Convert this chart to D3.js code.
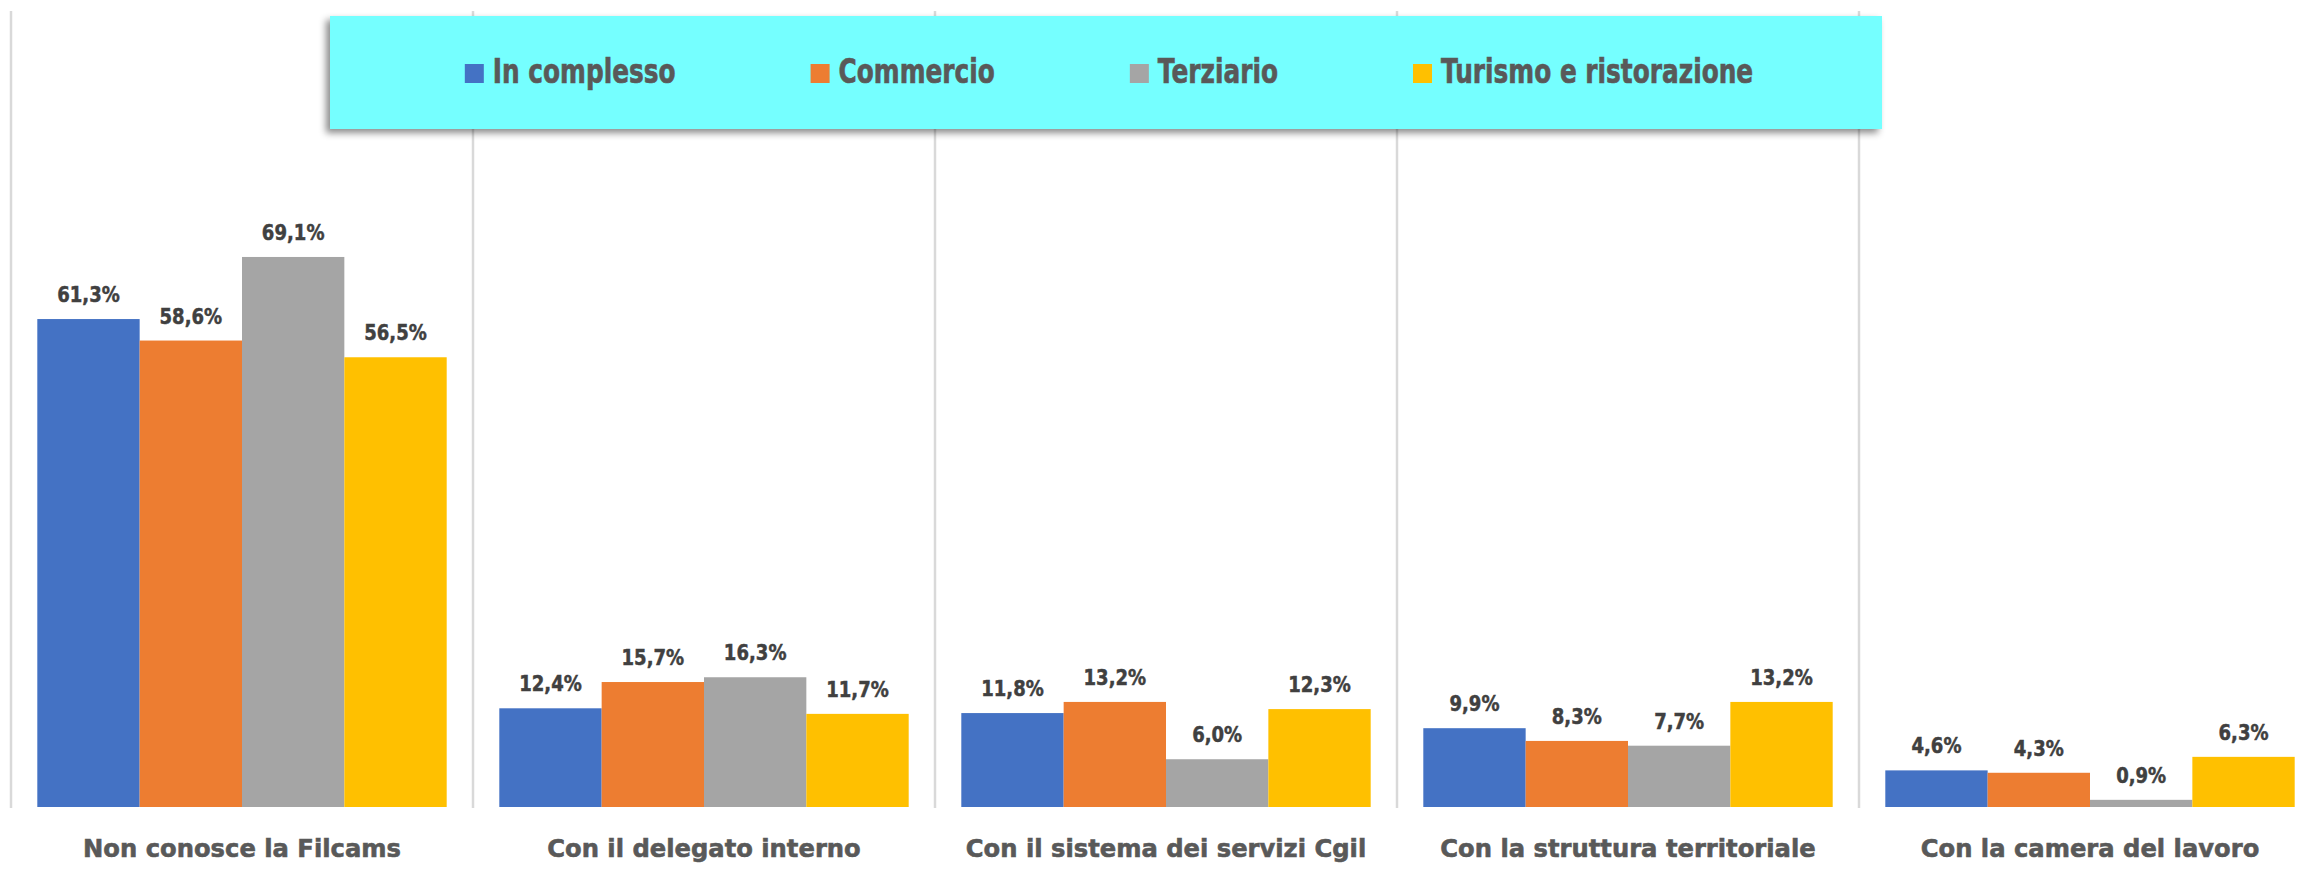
<!DOCTYPE html>
<html><head><meta charset="utf-8">
<script src="https://cdn.jsdelivr.net/npm/d3@7"></script>
<style>body{margin:0;background:#fff;overflow:hidden}</style>
</head><body><svg id="chart"></svg>
<script>
// ---- data ----
const categories = ["Non conosce la Filcams", "Con il delegato interno", "Con il sistema dei servizi Cgil", "Con la struttura territoriale", "Con la camera del lavoro"];
const seriesNames = ["In complesso", "Commercio", "Terziario", "Turismo e ristorazione"];
const inComplesso = [61.3, 12.4, 11.8, 9.9, 4.6];
const commercio   = [58.6, 15.7, 13.2, 8.3, 4.3];
const terziario   = [69.1, 16.3, 6.0, 7.7, 0.9];
const turismo     = [56.5, 11.7, 12.3, 13.2, 6.3];
const seriesColors = ["#4472C4", "#ED7D31", "#A5A5A5", "#FFC000"];
const yDomain = [0, 100];

const seriesValues = [inComplesso, commercio, terziario, turismo];
const rows = [];
categories.forEach((c, ci) => seriesNames.forEach((s, si) => rows.push({cat: c, ser: s, si, v: seriesValues[si][ci]})));

// ---- layout ----
const W = 2298, H = 870;
const plot = {left: 11, right: 2321, top: 11, bottom: 807};
const svg = d3.select("#chart").attr("width", W).attr("height", H);
svg.append("rect").attr("width", W).attr("height", H).attr("fill", "#fff");

const x0 = d3.scaleBand().domain(categories).range([plot.left, plot.right]).paddingInner(0).paddingOuter(0);
const x1 = d3.scaleBand().domain(seriesNames).range([0, x0.bandwidth()]).paddingInner(0).paddingOuter(0.257);
const y = d3.scaleLinear().domain(yDomain).range([plot.bottom, plot.top]);
const color = d3.scaleOrdinal().domain(seriesNames).range(seriesColors);

// separators (category boundaries)
const bounds = categories.map(c => x0(c)).concat([x0(categories[categories.length - 1]) + x0.bandwidth()]);
svg.append("g").selectAll("line").data(bounds).join("line")
  .attr("x1", d => d).attr("x2", d => d)
  .attr("y1", plot.top).attr("y2", plot.bottom + 1)
  .attr("stroke", "#D9D9D9").attr("stroke-width", 2.5);

// bars
svg.append("g").selectAll("rect").data(rows).join("rect")
  .attr("x", d => x0(d.cat) + x1(d.ser))
  .attr("width", x1.bandwidth())
  .attr("y", d => y(d.v))
  .attr("height", d => y(0) - y(d.v))
  .attr("fill", d => color(d.ser));

// data labels
const fmt = v => v.toFixed(1).replace(".", ",") + "%";
svg.append("g").selectAll("text").data(rows).join("text")
  .attr("transform", d => `translate(${x0(d.cat) + x1(d.ser) + x1.bandwidth() / 2},${y(d.v) - 17}) scale(0.86,1)`)
  .attr("text-anchor", "middle")
  .attr("font-family", "'DejaVu Sans', sans-serif")
  .attr("font-weight", "bold")
  .attr("font-size", 21)
  .attr("fill", "#404040")
  .attr("stroke", "#404040").attr("stroke-width", 0.5)
  .text(d => fmt(d.v));

// category axis labels
const xAxis = d3.axisBottom(x0).tickSize(0).tickPadding(0);
const gx = svg.append("g").attr("transform", `translate(0,${plot.bottom})`).call(xAxis);
gx.select(".domain").remove();
gx.selectAll("text")
  .attr("y", 50).attr("dy", 0)
  .attr("font-family", "'DejaVu Sans', sans-serif")
  .attr("font-weight", "bold")
  .attr("font-size", 25)
  .attr("transform", function () { const t = d3.select(this.parentNode).attr("transform"); return null; })
  .attr("fill", "#595959")
  .attr("stroke", "#595959").attr("stroke-width", 0.6);
gx.selectAll(".tick text").attr("transform", "scale(0.97,1)");
gx.selectAll(".tick").attr("transform", d => `translate(${x0(d) + x0.bandwidth() / 2},0)`);

// legend
const defs = svg.append("defs");
const f = defs.append("filter").attr("id", "shadow").attr("x", "-5%").attr("y", "-20%").attr("width", "110%").attr("height", "150%");
f.append("feDropShadow").attr("dx", -4).attr("dy", 4).attr("stdDeviation", 3.5)
  .attr("flood-color", "#000").attr("flood-opacity", 0.45);

const lg = {x: 330, y: 16, w: 1552, h: 113};
svg.append("rect").attr("x", lg.x).attr("y", lg.y).attr("width", lg.w).attr("height", lg.h)
  .attr("fill", "#74FFFF").attr("filter", "url(#shadow)");

const legendScaleX = 0.73, sw = 19, swGap = 9, itemGap = 135;
const items = svg.append("g").selectAll("g").data(seriesNames).join("g");
items.append("rect").attr("width", sw).attr("height", sw).attr("y", -sw).attr("fill", d => color(d));
const lt = items.append("text")
  .attr("font-family", "'DejaVu Sans', sans-serif")
  .attr("font-weight", "bold")
  .attr("font-size", 34)
  .attr("fill", "#595959")
  .attr("stroke", "#595959").attr("stroke-width", 0.7)
  .attr("transform", `translate(${sw + swGap},0) scale(${legendScaleX},1)`)
  .text(d => d);
const widths = [];
lt.each(function () { widths.push(sw + swGap + this.getComputedTextLength() * legendScaleX); });
const total = d3.sum(widths) + itemGap * (widths.length - 1);
let cx = lg.x + (lg.w - total) / 2 + 3;
const xs = widths.map(w => { const p = cx; cx += w + itemGap; return p; });
items.attr("transform", (d, i) => `translate(${xs[i]},83)`);
</script>
</body></html>
